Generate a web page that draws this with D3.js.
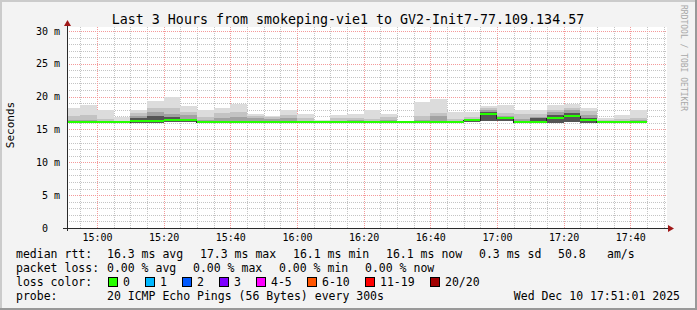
<!DOCTYPE html>
<html>
<head>
<meta charset="utf-8">
<script src="https://cdn.jsdelivr.net/npm/d3@7.9.0/dist/d3.min.js"></script>
<style>
  html, body { margin: 0; padding: 0; background: #f3f3f3; }
  svg text { font-family: 'DejaVu Sans Mono', monospace; white-space: pre; }
</style>
</head>
<body>
<svg id="chart" width="697" height="310"></svg>
<script>
// 5-minute bins (start time of each rrd step)
const binStarts = [
  '14:50', '14:55', '15:00', '15:05', '15:10', '15:15', '15:20', '15:25', '15:30', '15:35',
  '15:40', '15:45', '15:50', '15:55', '16:00', '16:05', '16:10', '16:15', '16:20', '16:25',
  '16:30', '16:35', '16:40', '16:45', '16:50', '16:55', '17:00', '17:05', '17:10', '17:15',
  '17:20', '17:25', '17:30', '17:35', '17:40',
];
// median rtt, ms (all bins 0 loss)
const medianRtt = [
  16.1, 16.1, 16.1, 16.1, 16.3, 16.3, 16.5, 16.5, 16.1, 16.1,
  16.1, 16.1, 16.1, 16.1, 16.1, 16.1, 16.1, 16.1, 16.1, 16.1,
  16.1, 16.1, 16.1, 16.1, 16.5, 17.3, 16.7, 16.1, 16.1, 16.7,
  17.1, 16.5, 16.1, 16.1, 16.1,
];
// smoke: lowest ping and the upper edge of each shaded band, ms
const smokeMin = [
  16.0, 16.0, 16.0, 16.0, 16.0, 16.0, 16.1, 16.1, 16.0, 16.0,
  16.0, 16.0, 16.0, 16.0, 16.0, 16.0, 16.0, 16.0, 16.0, 16.0,
  16.0, 16.0, 16.0, 16.0, 16.1, 16.3, 16.3, 16.0, 16.0, 16.0,
  16.1, 16.0, 16.0, 16.0, 16.0,
];
const smokeMax = [
  18.2, 18.8, 17.9, 16.9, 17.9, 19.4, 19.9, 18.6, 17.9, 18.3,
  18.9, 17.4, 17.1, 17.9, 17.4, 16.4, 17.2, 17.4, 18.0, 17.4,
  16.3, 19.2, 19.6, 17.7, 17.7, 18.5, 18.8, 18.0, 17.9, 18.8,
  18.9, 18.2, 16.7, 17.2, 18.0,
];
const smokeOuter = [
  17.0, 17.2, 16.6, 16.2, 17.5, 18.2, 18.3, 17.6, 16.9, 17.5,
  17.6, 17.0, 16.9, 17.2, 16.7, 16.2, 16.8, 16.8, 16.6, 16.9,
  16.2, 17.0, 17.5, 16.6, 16.9, 18.2, 17.5, 17.4, 17.3, 18.0,
  18.3, 17.8, 16.4, 16.6, 16.8,
];
const smokeInner = [
  16.4, 16.5, 16.3, 16.1, 17.0, 17.6, 17.4, 17.2, 16.4, 16.8,
  16.9, 16.8, 16.6, 16.7, 16.3, 16.1, 16.3, 16.4, 16.3, 16.4,
  16.1, 16.5, 17.0, 16.3, 16.6, 18.0, 17.0, 16.6, 16.9, 17.6,
  17.9, 17.2, 16.2, 16.3, 16.4,
];
const smokeCore = [
  16.1, 16.1, 16.1, 16.1, 16.7, 17.0, 16.9, 16.6, 16.1, 16.1,
  16.1, 16.1, 16.1, 16.1, 16.1, 16.1, 16.1, 16.1, 16.1, 16.1,
  16.1, 16.1, 16.3, 16.1, 16.4, 17.6, 16.8, 16.1, 16.7, 17.2,
  17.5, 16.8, 16.1, 16.1, 16.1,
];

const yTickValues = [0, 5, 10, 15, 20, 25, 30];
const xTickLabels = ['15:00', '15:20', '15:40', '16:00', '16:20', '16:40', '17:00', '17:20', '17:40'];

const lossLabels = ['0', '1', '2', '3', '4-5', '6-10', '11-19', '20/20'];
const lossColors = ['#26ff00', '#00b8ff', '#0059ff', '#7e00ff', '#ff00ff', '#ff5500', '#ff0000', '#a10000'];

const titleText = 'Last 3 Hours from smokeping-vie1 to GV2-Init7-77.109.134.57';
const rttRow = [['median rtt:', 16], ['16.3 ms avg', 107], ['17.3 ms max', 200], ['16.1 ms min', 293],
  ['16.1 ms now', 386], ['0.3 ms sd', 479], ['50.8', 558], ['am/s', 607]];
const lossRow = [['packet loss:', 16], ['0.00 % avg', 107], ['0.00 % max', 193], ['0.00 % min', 279], ['0.00 % now', 365]];
const probeRow = [['probe:', 16], ['20 ICMP Echo Pings (56 Bytes) every 300s', 107]];
const stampText = 'Wed Dec 10 17:51:01 2025';

const W = 697, H = 310;
const plot = { left: 67, right: 667, top: 27, bottom: 228 };

const day = '2025-12-10T';
const parseT = (s) => new Date(day + s + ':00');
const tStart = new Date(day + '14:51:01');
const tEnd = new Date(day + '17:51:01');

const x = d3.scaleTime().domain([tStart, tEnd]).range([plot.left, plot.right]);
const y = d3.scaleLinear().domain([0, 30.6]).range([plot.bottom, plot.top]);

const svg = d3.select('#chart');

// background + rrdtool style shading
svg.append('rect').attr('width', W).attr('height', H).attr('fill', '#f3f3f3');
svg.append('rect').attr('x', 0).attr('y', 0).attr('width', W).attr('height', 2).attr('fill', '#cbcbcb');
svg.append('rect').attr('x', 0).attr('y', 0).attr('width', 2).attr('height', H).attr('fill', '#cbcbcb');
svg.append('rect').attr('x', 0).attr('y', H - 2).attr('width', W).attr('height', 2).attr('fill', '#999999');
svg.append('rect').attr('x', W - 2).attr('y', 0).attr('width', 2).attr('height', H).attr('fill', '#999999');

svg.append('rect')
  .attr('x', plot.left).attr('y', plot.top)
  .attr('width', plot.right - plot.left).attr('height', plot.bottom - plot.top)
  .attr('fill', '#ffffff');

// grid dots drawn as 1px rects (1 on, 1 off) so colours stay crisp
const grid = svg.append('g').attr('shape-rendering', 'crispEdges');
const minorTimes = d3.timeMinute.every(5).range(tStart, tEnd);
const majorTimes = xTickLabels.map(parseT);
const isMajorT = (t) => t.getMinutes() % 20 === 0;
const minorY = d3.range(1, 31).filter((v) => v % 5 !== 0);
const majorY = yTickValues.filter((v) => v > 0);
const minorCol = '#c4c4c4';
const majorCol = '#f49a9a';
const dotsV = d3.range(plot.top, plot.bottom, 2);
const dotsH = d3.range(plot.left, plot.right, 2);

const vline = (t, color) => grid.append('g').selectAll('rect').data(dotsV).join('rect')
  .attr('x', Math.round(x(t))).attr('y', (d) => d).attr('width', 1).attr('height', 1).attr('fill', color);
const hline = (v, color) => grid.append('g').selectAll('rect').data(dotsH).join('rect')
  .attr('x', (d) => d).attr('y', Math.round(y(v))).attr('width', 1).attr('height', 1).attr('fill', color);

minorTimes.filter((t) => !isMajorT(t)).forEach((t) => vline(t, minorCol));
minorY.forEach((v) => hline(v, minorCol));
majorTimes.forEach((t) => vline(t, majorCol));
majorY.forEach((v) => hline(v, majorCol));

// smoke bands
const bins = binStarts.map((s, i) => ({
  t0: d3.max([parseT(s), tStart]),
  t1: d3.timeMinute.offset(parseT(s), 5),
  med: medianRtt[i],
  lo: smokeMin[i],
  levels: [smokeMax[i], smokeOuter[i], smokeInner[i], smokeCore[i]],
}));
const bandColors = ['#dcdcdc', '#c3c3c3', '#a2a2a2', '#555555'];

const smoke = svg.append('g').attr('shape-rendering', 'crispEdges');
bandColors.forEach((color, k) => {
  smoke.selectAll(null)
    .data(bins.filter((b) => b.levels[k] > b.lo))
    .join('rect')
    .attr('x', (b) => x(b.t0))
    .attr('width', (b) => x(b.t1) - x(b.t0))
    .attr('y', (b) => y(b.levels[k]))
    .attr('height', (b) => y(b.lo) - y(b.levels[k]))
    .attr('fill', color);
});

// median: dark step line underneath, loss-colored segments on top
const stepPts = bins.flatMap((b) => [[b.t0, b.med], [b.t1, b.med]]);
svg.append('path')
  .datum(stepPts)
  .attr('d', d3.line().x((d) => x(d[0])).y((d) => Math.round(y(d[1])) + 0.5))
  .attr('fill', 'none').attr('stroke', '#202020').attr('stroke-width', 1)
  .attr('shape-rendering', 'crispEdges');
svg.append('g').attr('shape-rendering', 'crispEdges')
  .selectAll('line').data(bins).join('line')
  .attr('x1', (b) => x(b.t0)).attr('x2', (b) => x(b.t1))
  .attr('y1', (b) => Math.round(y(b.med)))
  .attr('y2', (b) => Math.round(y(b.med)))
  .attr('stroke', lossColors[0]).attr('stroke-width', 2);

// axes
const axisCol = '#2a2a2a';
const arrowCol = '#a01818';
svg.append('line').attr('x1', plot.left - 4).attr('x2', plot.right + 4)
  .attr('y1', plot.bottom + 0.5).attr('y2', plot.bottom + 0.5).attr('stroke', axisCol).attr('shape-rendering', 'crispEdges');
svg.append('line').attr('x1', plot.left + 0.5).attr('x2', plot.left + 0.5)
  .attr('y1', plot.bottom + 3).attr('y2', plot.top - 3).attr('stroke', axisCol).attr('shape-rendering', 'crispEdges');
svg.append('path').attr('d', `M${plot.right + 1},${plot.bottom - 3} L${plot.right + 7},${plot.bottom + 0.5} L${plot.right + 1},${plot.bottom + 4} Z`).attr('fill', arrowCol);
svg.append('path').attr('d', `M${plot.left - 3},${plot.top - 1} L${plot.left + 0.5},${plot.top - 7} L${plot.left + 4},${plot.top - 1} Z`).attr('fill', arrowCol);

const xAxis = d3.axisBottom(x).tickValues(majorTimes).tickSize(0).tickPadding(6)
  .tickFormat(d3.timeFormat('%H:%M'));
svg.append('g').attr('transform', `translate(0,${plot.bottom})`).call(xAxis)
  .call((g) => g.select('.domain').remove())
  .selectAll('text').attr('font-size', 10).attr('fill', '#000').attr('font-family', 'DejaVu Sans Mono');

const yAxis = d3.axisLeft(y).tickValues(yTickValues).tickSize(0).tickPadding(7)
  .tickFormat((v) => (v === 0 ? '0  ' : `${v} m`));
svg.append('g').attr('transform', `translate(${plot.left},0)`).call(yAxis)
  .call((g) => g.select('.domain').remove())
  .selectAll('text').attr('font-size', 10).attr('fill', '#000').attr('font-family', 'DejaVu Sans Mono');

svg.append('text').attr('transform', 'translate(14,125) rotate(-90)')
  .attr('text-anchor', 'middle').attr('font-size', 11).text('Seconds');

// title + watermark
svg.append('text').attr('x', 348).attr('y', 24).attr('text-anchor', 'middle')
  .attr('font-size', 13.3).text(titleText);
svg.append('text').attr('transform', 'translate(681,5) rotate(90)')
  .attr('font-size', 8).attr('fill', '#a8a8a8').text('RRDTOOL / TOBI OETIKER');

// legend
const lg = svg.append('g').attr('font-size', 11.5);
const row = (items, yy) => items.forEach(([s, xx]) => lg.append('text').attr('x', xx).attr('y', yy).text(s));
row(rttRow, 258);
row(lossRow, 272);
row([['loss color:', 16]], 286);
row(probeRow, 300);
lg.append('text').attr('x', 680).attr('y', 300).attr('text-anchor', 'end').text(stampText);

let lx = 108;
lossLabels.forEach((lab, i) => {
  lg.append('rect').attr('x', lx + 0.5).attr('y', 277.5).attr('width', 9).attr('height', 9)
    .attr('fill', lossColors[i]).attr('stroke', '#000').attr('shape-rendering', 'crispEdges');
  lg.append('text').attr('x', lx + 15).attr('y', 286).text(lab);
  lx += 15 + lab.length * 7 + 15;
});
</script>
</body>
</html>
